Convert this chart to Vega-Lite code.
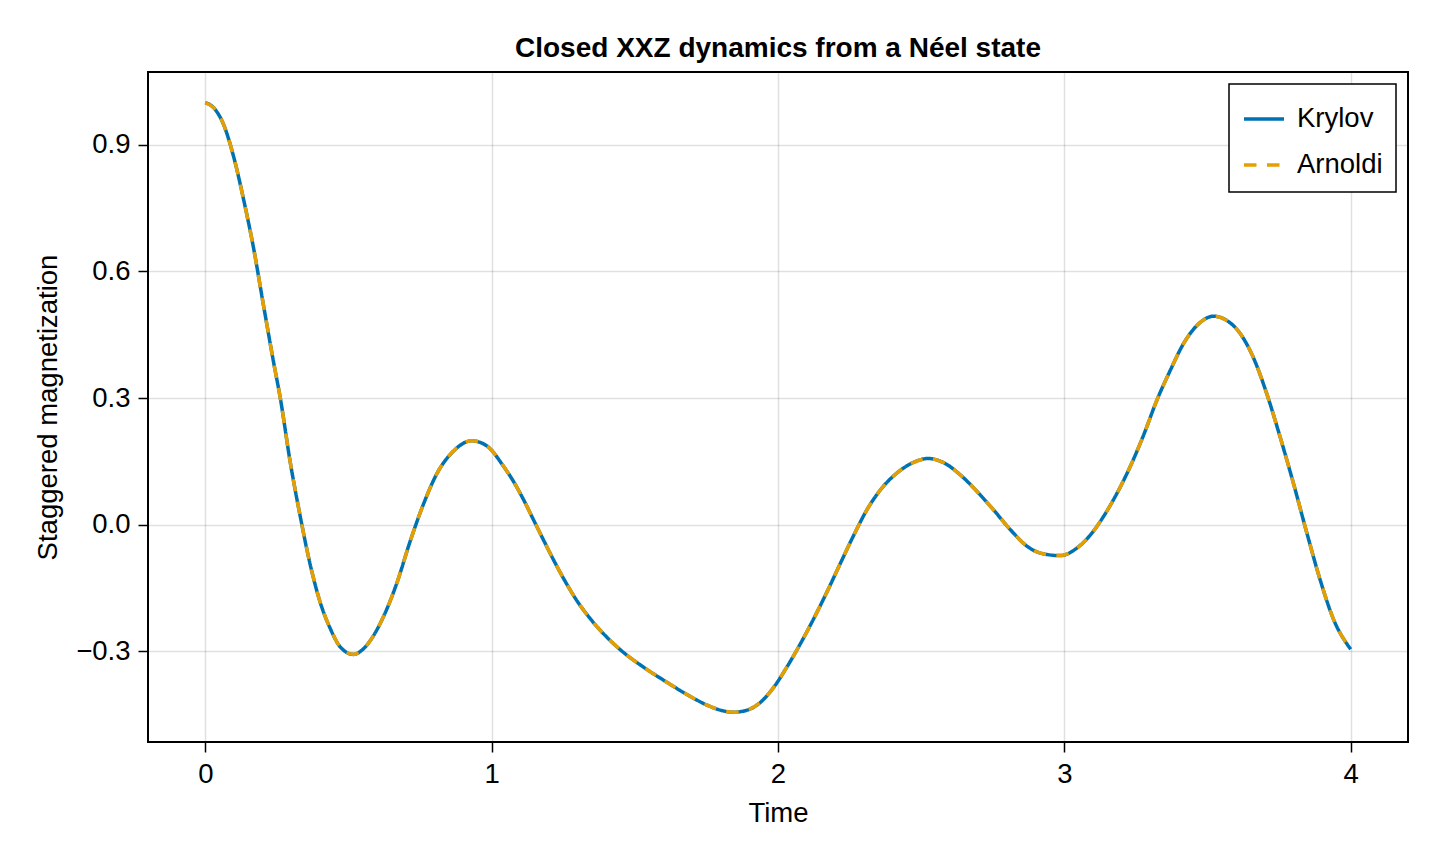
{
  "$schema": "https://vega.github.io/schema/vega-lite/v6.json",
  "width": 1260,
  "height": 670,
  "autosize": {"type": "none"},
  "padding": {"left": 148, "top": 72, "right": 32, "bottom": 118},
  "background": "white",
  "title": {
    "text": "Closed XXZ dynamics from a Néel state",
    "font": "Liberation Sans",
    "fontSize": 28,
    "fontWeight": "bold",
    "color": "black",
    "anchor": "middle",
    "offset": 9
  },
  "config": {
    "font": "Liberation Sans",
    "view": {"stroke": "black", "strokeWidth": 2},
    "axis": {
      "labelFont": "Liberation Sans",
      "titleFont": "Liberation Sans",
      "labelFontSize": 27.5,
      "titleFontSize": 27.5,
      "titleFontWeight": "normal",
      "labelColor": "black",
      "titleColor": "black",
      "domain": false,
      "tickColor": "black",
      "tickWidth": 1.5,
      "tickSize": 10,
      "labelPadding": 8,
      "grid": true,
      "gridColor": "#000000",
      "gridOpacity": 0.12,
      "gridWidth": 1.5
    }
  },
  "data": {
    "values": [
      {"t": 0.0, "Krylov": 1.0, "Arnoldi": 1.0},
      {"t": 0.029, "Krylov": 0.988, "Arnoldi": 0.988},
      {"t": 0.064, "Krylov": 0.948, "Arnoldi": 0.948},
      {"t": 0.099, "Krylov": 0.872, "Arnoldi": 0.872},
      {"t": 0.134, "Krylov": 0.77, "Arnoldi": 0.77},
      {"t": 0.169, "Krylov": 0.654, "Arnoldi": 0.654},
      {"t": 0.203, "Krylov": 0.521, "Arnoldi": 0.521},
      {"t": 0.238, "Krylov": 0.387, "Arnoldi": 0.387},
      {"t": 0.262, "Krylov": 0.3, "Arnoldi": 0.3},
      {"t": 0.297, "Krylov": 0.147, "Arnoldi": 0.147},
      {"t": 0.331, "Krylov": 0.022, "Arnoldi": 0.022},
      {"t": 0.366, "Krylov": -0.093, "Arnoldi": -0.093},
      {"t": 0.401, "Krylov": -0.183, "Arnoldi": -0.183},
      {"t": 0.436, "Krylov": -0.245, "Arnoldi": -0.245},
      {"t": 0.471, "Krylov": -0.289, "Arnoldi": -0.289},
      {"t": 0.517, "Krylov": -0.307, "Arnoldi": -0.307},
      {"t": 0.552, "Krylov": -0.294, "Arnoldi": -0.294},
      {"t": 0.587, "Krylov": -0.263, "Arnoldi": -0.263},
      {"t": 0.622, "Krylov": -0.218, "Arnoldi": -0.218},
      {"t": 0.669, "Krylov": -0.138, "Arnoldi": -0.138},
      {"t": 0.715, "Krylov": -0.04, "Arnoldi": -0.04},
      {"t": 0.762, "Krylov": 0.049, "Arnoldi": 0.049},
      {"t": 0.808, "Krylov": 0.12, "Arnoldi": 0.12},
      {"t": 0.866, "Krylov": 0.174, "Arnoldi": 0.174},
      {"t": 0.93, "Krylov": 0.199, "Arnoldi": 0.199},
      {"t": 0.983, "Krylov": 0.187, "Arnoldi": 0.187},
      {"t": 1.041, "Krylov": 0.139, "Arnoldi": 0.139},
      {"t": 1.076, "Krylov": 0.103, "Arnoldi": 0.103},
      {"t": 1.111, "Krylov": 0.06, "Arnoldi": 0.06},
      {"t": 1.146, "Krylov": 0.012, "Arnoldi": 0.012},
      {"t": 1.181, "Krylov": -0.036, "Arnoldi": -0.036},
      {"t": 1.216, "Krylov": -0.083, "Arnoldi": -0.083},
      {"t": 1.251, "Krylov": -0.127, "Arnoldi": -0.127},
      {"t": 1.297, "Krylov": -0.179, "Arnoldi": -0.179},
      {"t": 1.344, "Krylov": -0.222, "Arnoldi": -0.222},
      {"t": 1.402, "Krylov": -0.266, "Arnoldi": -0.266},
      {"t": 1.46, "Krylov": -0.302, "Arnoldi": -0.302},
      {"t": 1.53, "Krylov": -0.337, "Arnoldi": -0.337},
      {"t": 1.612, "Krylov": -0.373, "Arnoldi": -0.373},
      {"t": 1.682, "Krylov": -0.402, "Arnoldi": -0.402},
      {"t": 1.752, "Krylov": -0.427, "Arnoldi": -0.427},
      {"t": 1.81, "Krylov": -0.441, "Arnoldi": -0.441},
      {"t": 1.845, "Krylov": -0.444, "Arnoldi": -0.444},
      {"t": 1.892, "Krylov": -0.439, "Arnoldi": -0.439},
      {"t": 1.938, "Krylov": -0.421, "Arnoldi": -0.421},
      {"t": 1.985, "Krylov": -0.385, "Arnoldi": -0.385},
      {"t": 2.031, "Krylov": -0.337, "Arnoldi": -0.337},
      {"t": 2.078, "Krylov": -0.282, "Arnoldi": -0.282},
      {"t": 2.125, "Krylov": -0.222, "Arnoldi": -0.222},
      {"t": 2.171, "Krylov": -0.159, "Arnoldi": -0.159},
      {"t": 2.218, "Krylov": -0.091, "Arnoldi": -0.091},
      {"t": 2.265, "Krylov": -0.024, "Arnoldi": -0.024},
      {"t": 2.311, "Krylov": 0.036, "Arnoldi": 0.036},
      {"t": 2.358, "Krylov": 0.083, "Arnoldi": 0.083},
      {"t": 2.416, "Krylov": 0.123, "Arnoldi": 0.123},
      {"t": 2.474, "Krylov": 0.148, "Arnoldi": 0.148},
      {"t": 2.524, "Krylov": 0.157, "Arnoldi": 0.157},
      {"t": 2.579, "Krylov": 0.147, "Arnoldi": 0.147},
      {"t": 2.637, "Krylov": 0.118, "Arnoldi": 0.118},
      {"t": 2.695, "Krylov": 0.079, "Arnoldi": 0.079},
      {"t": 2.753, "Krylov": 0.035, "Arnoldi": 0.035},
      {"t": 2.812, "Krylov": -0.012, "Arnoldi": -0.012},
      {"t": 2.87, "Krylov": -0.051, "Arnoldi": -0.051},
      {"t": 2.928, "Krylov": -0.069, "Arnoldi": -0.069},
      {"t": 2.986, "Krylov": -0.073, "Arnoldi": -0.073},
      {"t": 3.044, "Krylov": -0.055, "Arnoldi": -0.055},
      {"t": 3.091, "Krylov": -0.024, "Arnoldi": -0.024},
      {"t": 3.137, "Krylov": 0.02, "Arnoldi": 0.02},
      {"t": 3.184, "Krylov": 0.075, "Arnoldi": 0.075},
      {"t": 3.23, "Krylov": 0.138, "Arnoldi": 0.138},
      {"t": 3.277, "Krylov": 0.213, "Arnoldi": 0.213},
      {"t": 3.323, "Krylov": 0.295, "Arnoldi": 0.295},
      {"t": 3.37, "Krylov": 0.366, "Arnoldi": 0.366},
      {"t": 3.416, "Krylov": 0.429, "Arnoldi": 0.429},
      {"t": 3.463, "Krylov": 0.472, "Arnoldi": 0.472},
      {"t": 3.521, "Krylov": 0.494, "Arnoldi": 0.494},
      {"t": 3.567, "Krylov": 0.484, "Arnoldi": 0.484},
      {"t": 3.614, "Krylov": 0.453, "Arnoldi": 0.453},
      {"t": 3.66, "Krylov": 0.396, "Arnoldi": 0.396},
      {"t": 3.707, "Krylov": 0.31, "Arnoldi": 0.31},
      {"t": 3.753, "Krylov": 0.209, "Arnoldi": 0.209},
      {"t": 3.8, "Krylov": 0.098, "Arnoldi": 0.098},
      {"t": 3.847, "Krylov": -0.02, "Arnoldi": -0.02},
      {"t": 3.893, "Krylov": -0.13, "Arnoldi": -0.13},
      {"t": 3.94, "Krylov": -0.224, "Arnoldi": -0.224},
      {"t": 4.0, "Krylov": -0.295, "Arnoldi": -0.295}
    ]
  },
  "transform": [
    {"fold": ["Krylov", "Arnoldi"], "as": ["method", "value"]}
  ],
  "mark": {"type": "line", "strokeWidth": 3.5, "interpolate": "monotone", "clip": true},
  "encoding": {
    "x": {
      "field": "t",
      "type": "quantitative",
      "title": "Time",
      "scale": {"domain": [-0.2, 4.2], "nice": false, "zero": false},
      "axis": {"values": [0, 1, 2, 3, 4], "format": "d", "titlePadding": 12}
    },
    "y": {
      "field": "value",
      "type": "quantitative",
      "title": "Staggered magnetization",
      "scale": {"domain": [-0.5145, 1.0725], "nice": false, "zero": false},
      "axis": {"values": [-0.3, 0, 0.3, 0.6, 0.9], "format": ".1f", "titlePadding": 13}
    },
    "color": {
      "field": "method",
      "type": "nominal",
      "scale": {"domain": ["Krylov", "Arnoldi"], "range": ["#0072B2", "#E69F00"]},
      "legend": {
        "title": null,
        "orient": "top-right",
        "offset": 12,
        "symbolType": "stroke",
        "symbolSize": 1600,
        "symbolStrokeWidth": 3.5,
        "labelFont": "Liberation Sans",
        "labelFontSize": 27.5,
        "labelColor": "black",
        "labelOffset": 11,
        "rowPadding": 10,
        "padding": 13,
        "strokeColor": "black",
        "fillColor": "white",
        "encode": {"legend": {"update": {"strokeWidth": {"value": 1.5}}}}
      }
    },
    "strokeDash": {
      "field": "method",
      "type": "nominal",
      "scale": {"domain": ["Krylov", "Arnoldi"], "range": [[1, 0], [12.5, 10.5]]},
      "legend": {
        "title": null,
        "orient": "top-right",
        "offset": 12,
        "symbolType": "stroke",
        "symbolSize": 1600,
        "symbolStrokeWidth": 3.5,
        "labelFont": "Liberation Sans",
        "labelFontSize": 27.5,
        "labelColor": "black",
        "labelOffset": 11,
        "rowPadding": 10,
        "padding": 13,
        "strokeColor": "black",
        "fillColor": "white",
        "encode": {"legend": {"update": {"strokeWidth": {"value": 1.5}}}}
      }
    }
  }
}
